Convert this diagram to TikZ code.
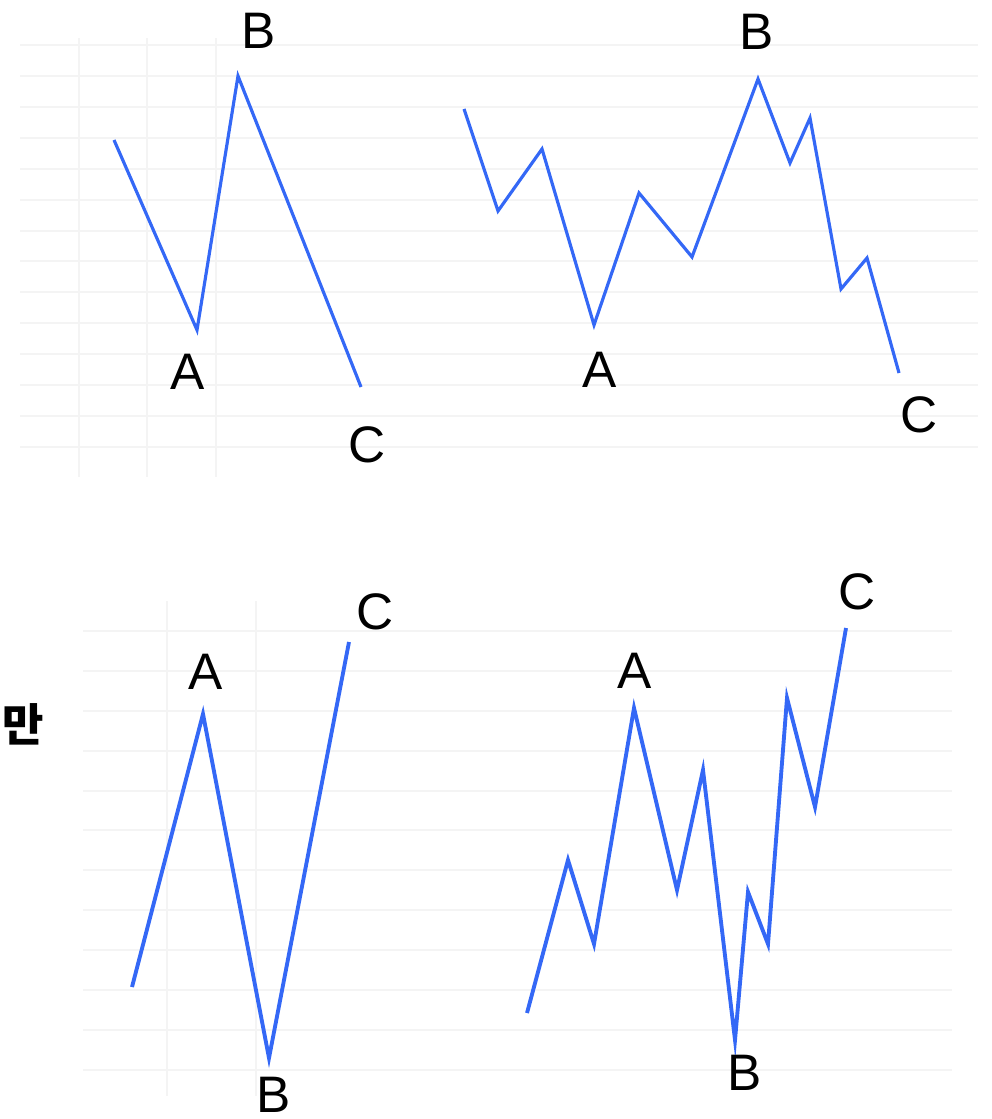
\documentclass[tikz,border=0pt]{standalone}
\usepackage{fontspec}
\setmainfont{Liberation Sans}
\newfontfamily\cjk{Noto Sans CJK KR}
\usetikzlibrary{positioning}

\definecolor{wavecol}{RGB}{52,104,246}
\definecolor{gridcol}{RGB}{244,244,244}

\begin{document}
\begin{tikzpicture}[
x=0.01cm, y=-0.01cm,
gridline/.style={draw=gridcol, line width=0.4pt},
waveline/.style={draw=wavecol, line width=0.9pt, line join=miter},
thickwave/.style={waveline, line width=1.1pt},
tag/.style={font=\fontsize{14.6}{15}\selectfont, inner sep=0pt, text depth=0pt}
]
\useasboundingbox (0,0) rectangle (991,1119);

% Top grid
\foreach \y in {45,76,107,138,169,200,231,261,292,323,354,385,416,447}
    \draw[gridline] (20,\y) -- (978,\y);
\foreach \x in {79,147,216}
    \draw[gridline] (\x,38) -- (\x,477);

% Bottom grid
\foreach \y in {631,671,711,751,791,830,870,910,950,990,1030,1070}
    \draw[gridline] (83,\y) -- (952,\y);
\foreach \x in {167,256}
    \draw[gridline] (\x,601) -- (\x,1096);

% Top left wave
\coordinate (tl0) at (114,140);
\coordinate (tlA) at (197,330);
\coordinate (tlB) at (238,76);
\coordinate (tlC) at (361,387);
\draw[waveline] (tl0) -- (tlA) -- (tlB) -- (tlC);
\node[tag] (tlAlabel) at (188,372) {A};
\node[tag] (tlBlabel) at (259,31) {B};
\node[tag] (tlClabel) at (367,445) {C};

% Top right wave
\coordinate (tr0) at (464,109);
\coordinate (tr1) at (498,211);
\coordinate (tr2) at (542,149);
\coordinate (trA) at (594,325);
\coordinate (tr3) at (639,193);
\coordinate (tr4) at (692,257);
\coordinate (trB) at (758,79);
\coordinate (tr5) at (790,163);
\coordinate (tr6) at (810,118);
\coordinate (tr7) at (841,289);
\coordinate (tr8) at (867,258);
\coordinate (trC) at (899,373);
\draw[waveline] (tr0) -- (tr1) -- (tr2) -- (trA) -- (tr3) -- (tr4) -- (trB)
    -- (tr5) -- (tr6) -- (tr7) -- (tr8) -- (trC);
\node[tag] (trAlabel) at (600,370) {A};
\node[tag] (trBlabel) at (757,32) {B};
\node[tag] (trClabel) at (919,415) {C};

% Side mark
\node[font=\cjk\bfseries\fontsize{12.8}{13}\selectfont, inner sep=0pt] (mark) at (23,724) {만};

% Bottom left wave
\coordinate (bl0) at (132,987);
\coordinate (blA) at (203,714);
\coordinate (blB) at (269,1058);
\coordinate (blC) at (349,642);
\draw[thickwave] (bl0) -- (blA) -- (blB) -- (blC);
\node[tag] (blAlabel) at (206,672) {A};
\node[tag] (blBlabel) at (274,1095) {B};
\node[tag] (blClabel) at (375,612) {C};

% Bottom right wave
\coordinate (br0) at (527,1013);
\coordinate (br1) at (568,860);
\coordinate (br2) at (594,944);
\coordinate (brA) at (634,708);
\coordinate (br3) at (677,890);
\coordinate (br4) at (703,770);
\coordinate (brB) at (735,1040);
\coordinate (br5) at (748,892);
\coordinate (br6) at (768,944);
\coordinate (br7) at (787,698);
\coordinate (br8) at (815,807);
\coordinate (brC) at (846,628);
\draw[thickwave] (br0) -- (br1) -- (br2) -- (brA) -- (br3) -- (br4) -- (brB)
    -- (br5) -- (br6) -- (br7) -- (br8) -- (brC);
\node[tag] (brAlabel) at (635,671) {A};
\node[tag] (brBlabel) at (745,1073) {B};
\node[tag] (brClabel) at (857,592) {C};

\end{tikzpicture}
\end{document}
